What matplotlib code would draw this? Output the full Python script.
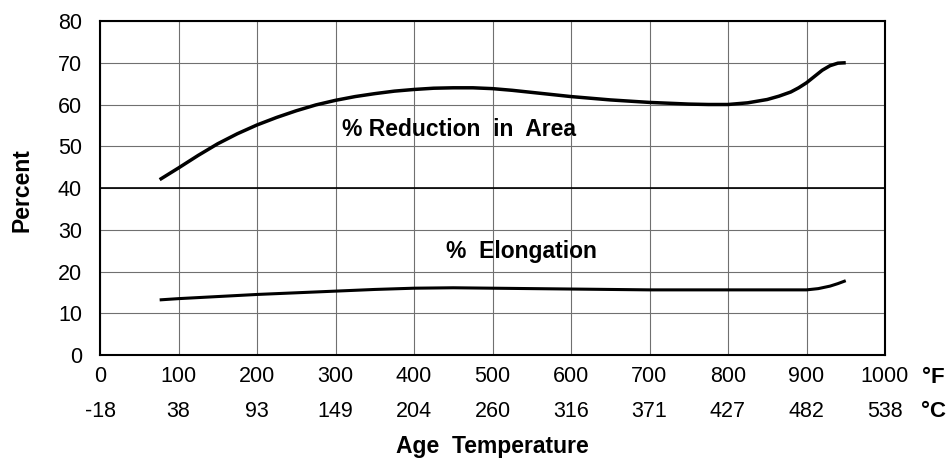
import numpy as np
import matplotlib.pyplot as plt

plt.rcParams['font.family'] = ['Liberation Sans', 'DejaVu Sans']

# Age temperature (deg F) and property values
temp_red = [76, 100, 125, 150, 175, 200, 225, 250, 275, 300, 325, 350, 375, 400, 425,
            450, 475, 500, 525, 550, 575, 600, 625, 650, 675, 700, 725, 750, 775, 800,
            825, 850, 865, 880, 890, 900, 910, 920, 930, 940, 950]
reduction = [42, 44.8, 47.8, 50.6, 53.0, 55.1, 56.9, 58.5, 59.9, 61.0, 61.9, 62.6,
             63.2, 63.6, 63.9, 64.0, 64.0, 63.8, 63.4, 62.9, 62.4, 61.9, 61.5, 61.1,
             60.8, 60.5, 60.3, 60.1, 60.0, 60.0, 60.4, 61.2, 62.0, 63.0, 64.0, 65.2,
             66.7, 68.2, 69.3, 69.9, 70.0]

temp_elo = [76, 100, 150, 200, 250, 300, 350, 400, 450, 500, 550, 600, 650, 700, 750,
            800, 850, 900, 915, 930, 940, 950]
elongation = [13.2, 13.5, 14.0, 14.5, 14.9, 15.3, 15.7, 16.0, 16.1, 16.0, 15.9, 15.8,
              15.7, 15.6, 15.6, 15.6, 15.6, 15.6, 15.9, 16.5, 17.1, 17.8]

f_ticks = [0, 100, 200, 300, 400, 500, 600, 700, 800, 900, 1000]
c_labels = ['-18', '38', '93', '149', '204', '260', '316', '371', '427', '482', '538']
y_ticks = [0, 10, 20, 30, 40, 50, 60, 70, 80]

fig = plt.figure(figsize=(9.49, 4.61), dpi=100)
ax = fig.add_axes([100 / 949, 1 - 355 / 461, 785 / 949, 334 / 461])

ax.set_xlim(0, 1000)
ax.set_ylim(0, 80)
ax.set_xticks(f_ticks)
ax.set_yticks(y_ticks)
ax.tick_params(length=0, labelsize=15.5)
ax.tick_params(axis='x', pad=8)
ax.tick_params(axis='y', pad=13)
ax.set_xticklabels([str(t) for t in f_ticks])
ax.grid(True, color='#707070', linewidth=0.8)
ax.axhline(40, color='black', linewidth=1.2)
for s in ax.spines.values():
    s.set_linewidth(1.5)

ax.plot(temp_red, reduction, color='black', linewidth=2.5, solid_capstyle='butt')
ax.plot(temp_elo, elongation, color='black', linewidth=2.2, solid_capstyle='butt')

ax.text(457, 54, '% Reduction  in  Area', ha='center', va='center',
        fontsize=16.5, fontweight='bold')
ax.text(537, 24.7, '%  Elongation', ha='center', va='center',
        fontsize=16.5, fontweight='bold')

# Celsius row under the Fahrenheit ticks
for f, c in zip(f_ticks, c_labels):
    ax.text(f, -13.6, c, ha='center', va='center', fontsize=15.5, clip_on=False)
ax.text(1062, -5.4, '°F', ha='center', va='center', fontsize=16,
        fontweight='bold', clip_on=False)
ax.text(1062, -13.6, '°C', ha='center', va='center', fontsize=16,
        fontweight='bold', clip_on=False)

fig.text(22 / 949, 1 - 190 / 461, 'Percent', rotation=90, ha='center', va='center',
         fontsize=16.5, fontweight='bold')
fig.text(492 / 949, 3 / 461, 'Age  Temperature', ha='center', va='bottom',
         fontsize=16.5, fontweight='bold')

fig.savefig('out.png', dpi=100)
